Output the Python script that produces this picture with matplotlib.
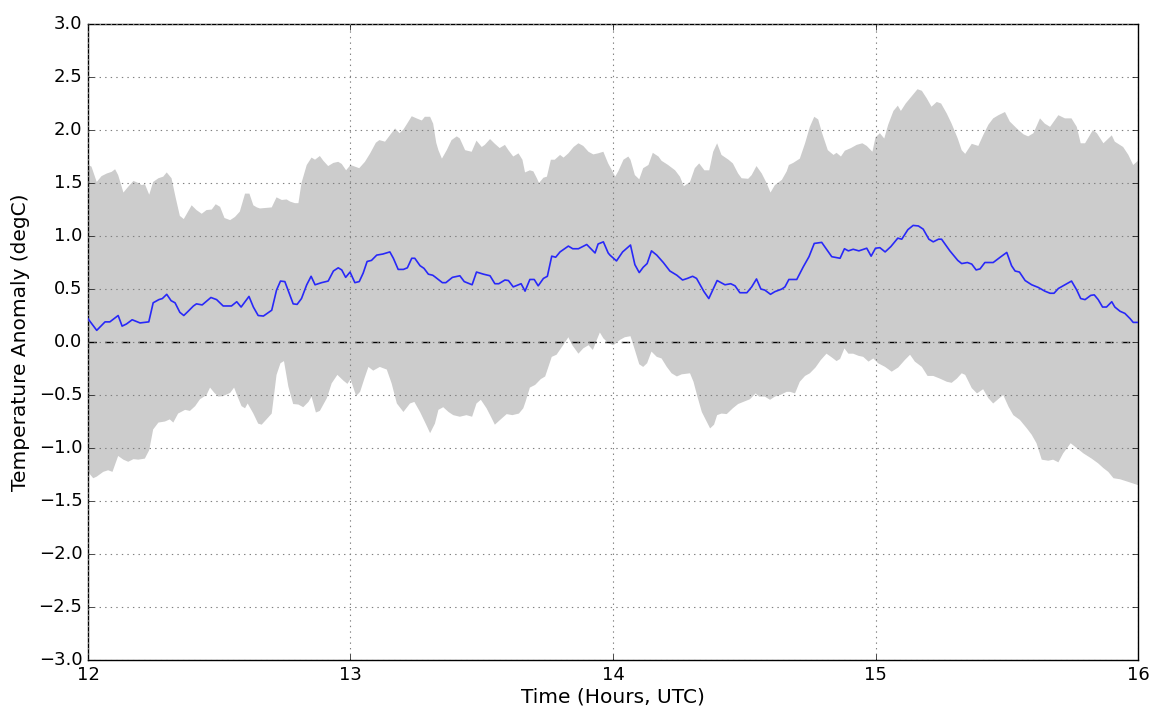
import numpy as np
import matplotlib
matplotlib.use("Agg")
import matplotlib.pyplot as plt

# Mean temperature anomaly (minutes after 12:00 UTC, degC)
mean_minutes = [0, 2.0, 3.9, 5.0, 6.9, 7.8, 8.8, 10.1, 11.9, 13.9, 14.9, 16.2, 17.0, 18.0, 19.0,
                19.9, 21.0, 21.9, 22.9, 24.1, 24.8, 26.1, 28.1, 29.4, 30.9, 32.8, 34.0, 35.0, 36.8,
                37.8, 38.9, 40.1, 42.0, 43.1, 44.0, 45.0, 46.9, 47.8, 48.8, 50.0, 51.0, 51.9, 53.4,
                54.9, 56.1, 57.2, 58.0, 58.9, 59.9, 61.0, 62.0, 62.9, 63.8, 64.8, 66.0, 67.4, 69.0,
                69.8, 70.9, 72.1, 73.0, 74.0, 74.7, 75.9, 76.8, 77.8, 78.8, 79.3, 81.0, 81.8, 83.3,
                85.0, 86.0, 87.8, 88.8, 90.4, 91.9, 93.0, 93.9, 95.3, 96.1, 97.2, 99.0, 99.9, 101.0,
                102.0, 102.9, 104.1, 105.0, 106.0, 106.9, 107.9, 109.8, 110.8, 112.1, 114.0, 115.9,
                116.6, 117.8, 118.9, 119.3, 120.8, 122.2, 124.0, 125.0, 126.0, 126.9, 127.8, 128.8,
                130.0, 131.5, 133.0, 134.6, 135.9, 137.0, 138.2, 139.1, 140.8, 141.9, 143.8, 145.6,
                146.9, 147.9, 149.0, 150.6, 151.7, 152.8, 153.8, 154.7, 156.0, 157.0, 158.6, 159.3,
                160.2, 162.0, 163.5, 164.8, 166.0, 167.7, 170.0, 171.9, 172.9, 173.8, 174.9, 176.2,
                178.0, 179.0, 180.0, 181.0, 182.2, 183.5, 185.1, 186.0, 187.4, 188.6, 189.8, 190.9,
                192.2, 193.2, 194.4, 195.1, 197.0, 198.8, 199.7, 201.0, 202.0, 203.0, 203.9, 205.0,
                206.9, 208.5, 210.0, 211.1, 211.9, 212.9, 214.2, 215.7, 217.2, 218.7, 219.9, 220.8,
                221.8, 223.5, 224.8, 226.0, 226.9, 227.9, 229.2, 230.0, 230.9, 231.9, 232.8, 234.0,
                234.7, 235.9, 237.0, 238.2, 238.9, 240.0]
mean_anomaly = [0.22, 0.11, 0.19, 0.19, 0.25, 0.15, 0.17, 0.21, 0.18, 0.19, 0.37, 0.40, 0.41, 0.45,
                0.39, 0.37, 0.28, 0.25, 0.29, 0.34, 0.36, 0.35, 0.42, 0.40, 0.34, 0.34, 0.38, 0.33,
                0.43, 0.33, 0.25, 0.245, 0.30, 0.49, 0.575, 0.57, 0.36, 0.355, 0.41, 0.54, 0.62, 0.54,
                0.56, 0.575, 0.67, 0.70, 0.68, 0.61, 0.66, 0.56, 0.57, 0.65, 0.76, 0.77, 0.82, 0.83,
                0.85, 0.79, 0.685, 0.685, 0.70, 0.79, 0.79, 0.72, 0.695, 0.64, 0.63, 0.615, 0.56, 0.56,
                0.61, 0.625, 0.57, 0.54, 0.66, 0.64, 0.625, 0.55, 0.55, 0.585, 0.58, 0.52, 0.55, 0.48,
                0.59, 0.59, 0.53, 0.60, 0.62, 0.81, 0.80, 0.85, 0.905, 0.88, 0.88, 0.92, 0.84, 0.925,
                0.945, 0.84, 0.82, 0.765, 0.85, 0.915, 0.73, 0.655, 0.705, 0.74, 0.86, 0.82, 0.75,
                0.67, 0.63, 0.585, 0.60, 0.62, 0.60, 0.475, 0.41, 0.58, 0.54, 0.55, 0.53, 0.465, 0.465,
                0.52, 0.595, 0.50, 0.49, 0.45, 0.475, 0.50, 0.52, 0.59, 0.59, 0.71, 0.805, 0.93, 0.94,
                0.805, 0.79, 0.88, 0.86, 0.875, 0.86, 0.885, 0.81, 0.885, 0.89, 0.85, 0.90, 0.98, 0.97,
                1.06, 1.10, 1.095, 1.065, 0.97, 0.945, 0.97, 0.97, 0.86, 0.77, 0.74, 0.75, 0.735, 0.68,
                0.69, 0.75, 0.75, 0.80, 0.845, 0.72, 0.67, 0.66, 0.58, 0.54, 0.515, 0.48, 0.46, 0.46,
                0.505, 0.545, 0.575, 0.49, 0.41, 0.40, 0.44, 0.445, 0.40, 0.33, 0.33, 0.38, 0.33, 0.29,
                0.27, 0.22, 0.185, 0.185]

# Upper bound of the spread
upper_minutes = [0, 0.8, 2.0, 3.1, 4.3, 5.4, 6.2, 6.9, 8.1, 9.2, 10.4, 11.5, 12.3, 13.0, 14.0, 14.9,
                 16.1, 17.2, 18.0, 19.1, 20.0, 21.0, 21.9, 23.7, 24.8, 26.0, 27.1, 28.3, 29.2, 30.2,
                 31.2, 32.5, 33.6, 34.7, 35.9, 36.9, 37.8, 38.6, 39.3, 42.0, 43.1, 44.3, 45.4, 46.2,
                 47.3, 48.1, 48.8, 50.0, 51.1, 51.9, 53.0, 53.8, 54.9, 56.1, 57.2, 58.0, 59.0, 60.0,
                 61.0, 62.0, 63.3, 64.5, 65.8, 66.6, 67.9, 69.0, 70.2, 71.2, 72.1, 72.8, 74.0, 75.1,
                 76.3, 77.0, 78.2, 78.9, 79.6, 80.1, 80.9, 82.0, 83.1, 84.3, 85.0, 86.2, 87.7, 88.8,
                 90.0, 90.7, 91.9, 93.0, 94.1, 95.3, 96.1, 97.2, 98.4, 99.3, 99.9, 101.0, 101.8, 102.6,
                 103.1, 104.1, 104.9, 105.8, 106.7, 107.9, 108.7, 109.8, 111.0, 112.1, 113.2, 114.4,
                 115.5, 116.6, 117.8, 118.9, 119.9, 120.5, 121.2, 122.4, 123.5, 124.0, 125.0, 126.0,
                 126.9, 128.1, 129.1, 130.4, 131.1, 132.6, 134.2, 135.3, 136.2, 137.6, 138.7, 139.7,
                 140.9, 142.0, 142.9, 143.8, 144.8, 146.4, 147.4, 148.6, 149.4, 150.9, 151.7, 152.8,
                 154.0, 155.1, 156.0, 157.0, 158.6, 159.7, 160.2, 161.2, 162.7, 163.9, 165.0, 166.0,
                 166.9, 167.8, 169.1, 170.4, 171.1, 172.1, 173.0, 174.4, 175.7, 177.0, 178.0, 179.3,
                 180.0, 181.0, 182.0, 182.9, 184.1, 185.1, 185.8, 186.9, 188.3, 189.6, 190.6, 191.7,
                 192.8, 194.0, 195.0, 196.3, 197.4, 198.8, 199.7, 200.5, 202.0, 203.5, 204.6, 205.8,
                 206.9, 208.1, 209.6, 210.7, 212.3, 213.8, 214.9, 216.1, 217.6, 218.7, 219.9, 221.8,
                 223.3, 224.8, 226.0, 226.9, 227.9, 229.7, 230.6, 232.1, 234.0, 234.7, 236.6, 237.8,
                 238.9, 240.0]
upper_anomaly = [1.67, 1.655, 1.51, 1.565, 1.59, 1.605, 1.63, 1.575, 1.41, 1.465, 1.52, 1.50, 1.48,
                 1.49, 1.39, 1.51, 1.545, 1.56, 1.60, 1.545, 1.37, 1.19, 1.16, 1.29, 1.245, 1.21, 1.245,
                 1.25, 1.30, 1.275, 1.17, 1.15, 1.18, 1.23, 1.40, 1.40, 1.29, 1.27, 1.26, 1.27, 1.365,
                 1.34, 1.345, 1.325, 1.31, 1.31, 1.50, 1.67, 1.74, 1.72, 1.755, 1.71, 1.66, 1.69, 1.70,
                 1.68, 1.62, 1.67, 1.655, 1.64, 1.70, 1.78, 1.88, 1.905, 1.89, 1.95, 2.015, 1.97, 2.005,
                 2.05, 2.13, 2.11, 2.09, 2.125, 2.125, 2.06, 1.88, 1.81, 1.73, 1.81, 1.905, 1.94, 1.92,
                 1.81, 1.795, 1.90, 1.84, 1.86, 1.915, 1.87, 1.83, 1.86, 1.81, 1.75, 1.78, 1.72, 1.60,
                 1.62, 1.61, 1.545, 1.50, 1.55, 1.56, 1.72, 1.72, 1.765, 1.74, 1.78, 1.84, 1.875, 1.85,
                 1.795, 1.77, 1.78, 1.795, 1.685, 1.61, 1.56, 1.61, 1.72, 1.75, 1.72, 1.575, 1.535,
                 1.64, 1.67, 1.785, 1.75, 1.71, 1.67, 1.62, 1.56, 1.47, 1.51, 1.64, 1.685, 1.62, 1.62,
                 1.795, 1.875, 1.765, 1.72, 1.685, 1.59, 1.545, 1.54, 1.575, 1.66, 1.59, 1.50, 1.41,
                 1.48, 1.53, 1.61, 1.67, 1.69, 1.73, 1.875, 2.03, 2.125, 2.10, 1.97, 1.81, 1.765, 1.785,
                 1.75, 1.805, 1.83, 1.86, 1.875, 1.85, 1.795, 1.93, 1.97, 1.92, 2.05, 2.18, 2.23, 2.18,
                 2.25, 2.32, 2.385, 2.37, 2.30, 2.22, 2.265, 2.25, 2.155, 2.06, 1.92, 1.81, 1.775, 1.87,
                 1.85, 1.95, 2.05, 2.11, 2.14, 2.17, 2.08, 2.015, 1.96, 1.94, 1.97, 2.11, 2.06, 2.03,
                 2.14, 2.11, 2.11, 2.03, 1.875, 1.875, 2.00, 1.97, 1.875, 1.95, 1.89, 1.84, 1.765, 1.67,
                 1.71]

# Lower bound of the spread
lower_minutes = [0, 1.2, 2.0, 3.5, 4.6, 5.6, 6.9, 8.1, 9.2, 10.4, 11.5, 13.0, 14.0, 14.9, 16.1, 17.6,
                 18.7, 19.5, 20.6, 22.2, 23.3, 24.5, 25.6, 27.1, 27.9, 28.9, 29.8, 30.9, 32.5, 33.4,
                 34.2, 35.1, 35.9, 36.5, 37.8, 38.9, 39.7, 40.8, 42.0, 43.1, 44.0, 44.8, 45.8, 46.9,
                 48.1, 49.2, 50.4, 51.1, 52.1, 53.0, 54.6, 55.7, 57.0, 58.4, 59.3, 60.0, 61.3, 62.2,
                 63.3, 64.1, 65.2, 66.7, 68.3, 69.4, 70.6, 72.1, 73.6, 74.6, 75.9, 77.3, 78.2, 79.3,
                 80.1, 81.2, 82.4, 83.5, 85.0, 86.5, 87.8, 88.8, 89.8, 91.1, 92.1, 93.0, 94.2, 95.7,
                 97.0, 98.5, 99.5, 100.0, 101.0, 102.2, 103.5, 104.5, 105.4, 106.0, 107.1, 108.6,
                 109.8, 110.7, 112.1, 113.2, 114.4, 115.4, 116.3, 117.0, 117.8, 118.9, 120.1, 121.6,
                 122.7, 124.0, 125.0, 126.0, 126.9, 127.8, 128.8, 130.0, 131.1, 132.3, 133.4, 134.6,
                 135.7, 137.6, 138.4, 139.3, 140.3, 141.4, 142.2, 143.1, 143.8, 144.8, 146.0, 147.4,
                 148.6, 149.8, 151.3, 152.6, 153.4, 154.7, 155.9, 157.0, 158.2, 159.7, 160.5, 161.6,
                 162.7, 163.9, 165.0, 166.3, 167.5, 168.8, 170.0, 171.1, 171.9, 172.9, 173.8, 174.9,
                 176.1, 177.2, 178.4, 179.5, 180.6, 182.2, 183.7, 185.2, 186.7, 187.9, 189.0, 190.6,
                 191.9, 193.2, 194.7, 196.3, 197.4, 198.6, 199.7, 200.5, 202.0, 203.2, 204.6, 205.8,
                 206.9, 208.3, 209.2, 210.4, 211.5, 213.0, 214.6, 215.7, 216.8, 218.0, 219.5, 220.6,
                 221.8, 222.9, 224.6, 226.0, 227.5, 229.4, 230.9, 232.1, 233.2, 234.4, 235.9, 237.8,
                 240.0]
lower_anomaly = [-1.225, -1.285, -1.27, -1.225, -1.21, -1.225, -1.075, -1.11, -1.13, -1.105, -1.11,
                 -1.10, -1.02, -0.825, -0.76, -0.75, -0.73, -0.76, -0.675, -0.64, -0.65, -0.605, -0.54,
                 -0.50, -0.43, -0.48, -0.515, -0.51, -0.48, -0.43, -0.515, -0.605, -0.625, -0.58,
                 -0.675, -0.77, -0.78, -0.73, -0.675, -0.31, -0.20, -0.18, -0.42, -0.585, -0.59,
                 -0.615, -0.565, -0.515, -0.665, -0.65, -0.53, -0.39, -0.31, -0.365, -0.395, -0.35,
                 -0.51, -0.47, -0.33, -0.235, -0.27, -0.235, -0.26, -0.39, -0.58, -0.66, -0.58,
                 -0.565, -0.66, -0.78, -0.86, -0.77, -0.64, -0.615, -0.66, -0.69, -0.705, -0.69,
                 -0.705, -0.58, -0.545, -0.625, -0.705, -0.78, -0.735, -0.68, -0.69, -0.675, -0.625,
                 -0.565, -0.43, -0.405, -0.35, -0.325, -0.215, -0.14, -0.12, -0.03, 0.045, -0.03,
                 -0.11, -0.06, -0.03, -0.075, 0.02, 0.09, 0.035, -0.01, -0.03, 0.02, 0.045, 0.055,
                 -0.075, -0.21, -0.235, -0.20, -0.09, -0.14, -0.155, -0.235, -0.295, -0.325, -0.305,
                 -0.295, -0.375, -0.515, -0.66, -0.75, -0.815, -0.78, -0.69, -0.675, -0.68, -0.625,
                 -0.585, -0.565, -0.54, -0.485, -0.515, -0.515, -0.545, -0.515, -0.50, -0.47, -0.47,
                 -0.485, -0.375, -0.32, -0.295, -0.24, -0.17, -0.11, -0.145, -0.18, -0.16, -0.06,
                 -0.11, -0.11, -0.13, -0.14, -0.185, -0.155, -0.20, -0.235, -0.28, -0.24, -0.17,
                 -0.12, -0.185, -0.235, -0.32, -0.32, -0.345, -0.375, -0.385, -0.345, -0.295, -0.31,
                 -0.435, -0.485, -0.445, -0.53, -0.58, -0.53, -0.50, -0.61, -0.69, -0.735, -0.815,
                 -0.875, -0.955, -1.11, -1.12, -1.11, -1.135, -1.05, -0.955, -1.00, -1.05, -1.10,
                 -1.145, -1.19, -1.225, -1.285, -1.295, -1.32, -1.35]

x_ticks = [12, 13, 14, 15, 16]
y_ticks = [-3.0, -2.5, -2.0, -1.5, -1.0, -0.5, 0.0, 0.5, 1.0, 1.5, 2.0, 2.5, 3.0]

plt.style.use("classic")
plt.rcParams["font.family"] = ["DejaVu Sans"]

fig = plt.figure(figsize=(11.53, 7.07), dpi=100, facecolor="white")
ax = fig.add_axes([0.0763, 0.0665, 0.9107, 0.8995])

to_hours = lambda m: 12.0 + np.asarray(m, dtype=float) / 60.0

# Spread band: upper edge forward, lower edge back
band_x = np.concatenate([to_hours(upper_minutes), to_hours(lower_minutes)[::-1]])
band_y = np.concatenate([np.asarray(upper_anomaly), np.asarray(lower_anomaly)[::-1]])
ax.fill(band_x, band_y, color="0.8", linewidth=0, zorder=1)

ax.plot(to_hours(mean_minutes), mean_anomaly, color="#2828f8", linewidth=1.2, zorder=3)
ax.axhline(0.0, color="k", linestyle="--", linewidth=1.0, zorder=2)

ax.set_xlim(12, 16)
ax.set_ylim(-3, 3)
ax.set_xticks(x_ticks)
ax.set_yticks(y_ticks)
ax.set_xticklabels([str(t) for t in x_ticks])
ax.set_yticklabels([f"{v:.1f}".replace("-", "\u2212") for v in y_ticks])
ax.tick_params(labelsize=13)
ax.grid(True, color="0.5", linestyle=":", linewidth=0.8)
ax.set_axisbelow(False)

ax.set_xlabel("Time (Hours, UTC)", fontsize=14.5, labelpad=3)
ax.set_ylabel("Temperature Anomaly (degC)", fontsize=14.5, labelpad=6)

fig.savefig("out.png", dpi=100, facecolor="white")
